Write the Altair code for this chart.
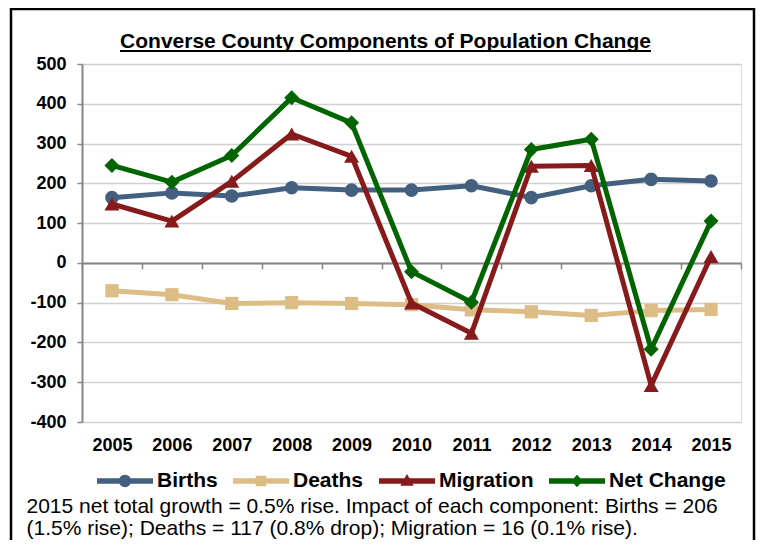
import altair as alt
import pandas as pd

# ---------------- data ----------------
years = ["2005", "2006", "2007", "2008", "2009", "2010",
         "2011", "2012", "2013", "2014", "2015"]
births = [164, 176, 168, 189, 183, 183, 194, 164, 194, 210, 206]
deaths = [-70, -80, -102, -100, -102, -105, -118, -123, -132, -120, -117]
migration = [148, 105, 205, 324, 268, -101, -177, 243, 245, -308, 16]
net_change = [245, 203, 270, 415, 352, -22, -99, 285, 311, -217, 105]

series_names = ["Births", "Deaths", "Migration", "Net Change"]
y_ticks = [-400, -300, -200, -100, 0, 100, 200, 300, 400, 500]

title_text = "Converse County Components of Population Change"
footnote_lines = [
    "2015 net total growth = 0.5% rise. Impact of each component: Births = 206",
    "(1.5% rise); Deaths = 117 (0.8% drop); Migration = 16 (0.1% rise).",
]

# ---------------- styles ----------------
series_colors = ["#44607F", "#DDBD86", "#871A1A", "#006400"]
marker_shapes = ["circle", "square", "triangle-up", "diamond"]
marker_sizes = [185, 175, 225, 225]
legend_symbols = [
    "M-1,-0.1L1,-0.1L1,0.1L-1,0.1Z M0.22,0A0.22,0.22,0,1,1,-0.22,0A0.22,0.22,0,1,1,0.22,0Z",
    "M-1,-0.1L1,-0.1L1,0.1L-1,0.1Z M-0.19,-0.19L0.19,-0.19L0.19,0.19L-0.19,0.19Z",
    "M-1,-0.1L1,-0.1L1,0.1L-1,0.1Z M0,-0.25L0.24,0.17L-0.24,0.17Z",
    "M-1,-0.1L1,-0.1L1,0.1L-1,0.1Z M0,-0.22L0.2,0L0,0.22L-0.2,0Z",
]
FONT = "Liberation Sans, Arial, Helvetica, sans-serif"
AXIS_GRAY = "#868686"

rows = []
for name, vals in zip(series_names, [births, deaths, migration, net_change]):
    for yr, v in zip(years, vals):
        rows.append({"year": yr, "series": name, "value": v})
df = pd.DataFrame(rows)

x_axis = alt.Axis(
    title=footnote_lines, titleFont=FONT, titleFontSize=21, titleFontWeight="normal",
    titleColor="black", titleAlign="left", titleAnchor="start", titleBaseline="alphabetic",
    titleX=-56, titleY=250, titleLineHeight=22, titleAngle=0,
    labelAngle=0, labelFont=FONT, labelFontSize=18, labelFontWeight="bold",
    labelColor="black", labelPadding=168, labelOverlap=False,
    domainColor=AXIS_GRAY, domainWidth=2, tickColor=AXIS_GRAY, tickWidth=1.5,
    tickSize=6, tickBand="extent", grid=False, offset=-159.11,
)
y_axis = alt.Axis(
    values=y_ticks, title=None, labelFont=FONT, labelFontSize=18, labelFontWeight="bold",
    labelColor="black", labelPadding=11, labelExpr="'' + datum.value",
    tickSize=5, tickColor=AXIS_GRAY, tickWidth=1.5,
    domainColor=AXIS_GRAY, domainWidth=2,
    grid=True, gridColor="#D0D0D0", gridWidth=1.5,
)

x_enc = alt.X("year:O", sort=years,
              scale=alt.Scale(type="band", domain=years, paddingInner=0, paddingOuter=0),
              axis=x_axis)
y_enc = alt.Y("value:Q", scale=alt.Scale(domain=[-400, 500], nice=False, zero=False),
              axis=y_axis)
color_scale = alt.Scale(domain=series_names, range=series_colors)
color_enc = alt.Color("series:N", scale=color_scale, legend=None)

# legend-only layer (first, so its legend settings win the merge)
legend = alt.Legend(
    title=None, orient="none", legendX=15, legendY=389, direction="horizontal",
    columns=4, columnPadding=15, labelFont=FONT, labelFontSize=21,
    labelFontWeight="bold", labelColor="black", labelOffset=4, labelLimit=400,
    symbolSize=3136, symbolStrokeWidth=0, symbolOpacity=1, padding=0,
)
legend_layer = alt.Chart().transform_filter("false").mark_point(
    filled=True, opacity=1
).encode(
    color=alt.Color("series:N", scale=color_scale, legend=legend),
    shape=alt.Shape("series:N", scale=alt.Scale(domain=series_names, range=legend_symbols),
                    legend=legend),
)

# decorative frame and title underline
frame = alt.Chart(alt.Data(values=[{}])).mark_rect(
    fillOpacity=0, stroke="black", strokeWidth=2.5
).encode(x=alt.value(-71), x2=alt.value(672), y=alt.value(-55), y2=alt.value(600))

underline = alt.Chart(alt.Data(values=[{}])).mark_rule(
    color="black", strokeWidth=2
).encode(x=alt.value(38), x2=alt.value(569), y=alt.value(-13))

layers = [legend_layer, frame, underline]
for name, shape, size in zip(series_names, marker_shapes, marker_sizes):
    base = alt.Chart().transform_filter(alt.datum.series == name)
    layers.append(
        base.mark_line(strokeWidth=5, strokeJoin="round", strokeCap="round")
        .encode(x=x_enc, y=y_enc, color=color_enc)
    )
    layers.append(
        base.mark_point(filled=True, shape=shape, size=size, opacity=1)
        .encode(x=x_enc, y=y_enc, color=color_enc)
    )

chart = alt.layer(*layers, data=df).properties(
    width=659,
    height=358,
    title=alt.Title(text=title_text, font=FONT, fontSize=21, fontWeight="bold",
                    color="black", anchor="middle", frame="group", dx=-26, offset=-44),
    autosize=alt.AutoSizeParams(type="none"),
    padding={"left": 74, "top": 56, "right": 15, "bottom": 118},
).configure_view(stroke="transparent").configure(background="white")

chart.save("out.html", embed_options={"renderer": "svg", "actions": False})
